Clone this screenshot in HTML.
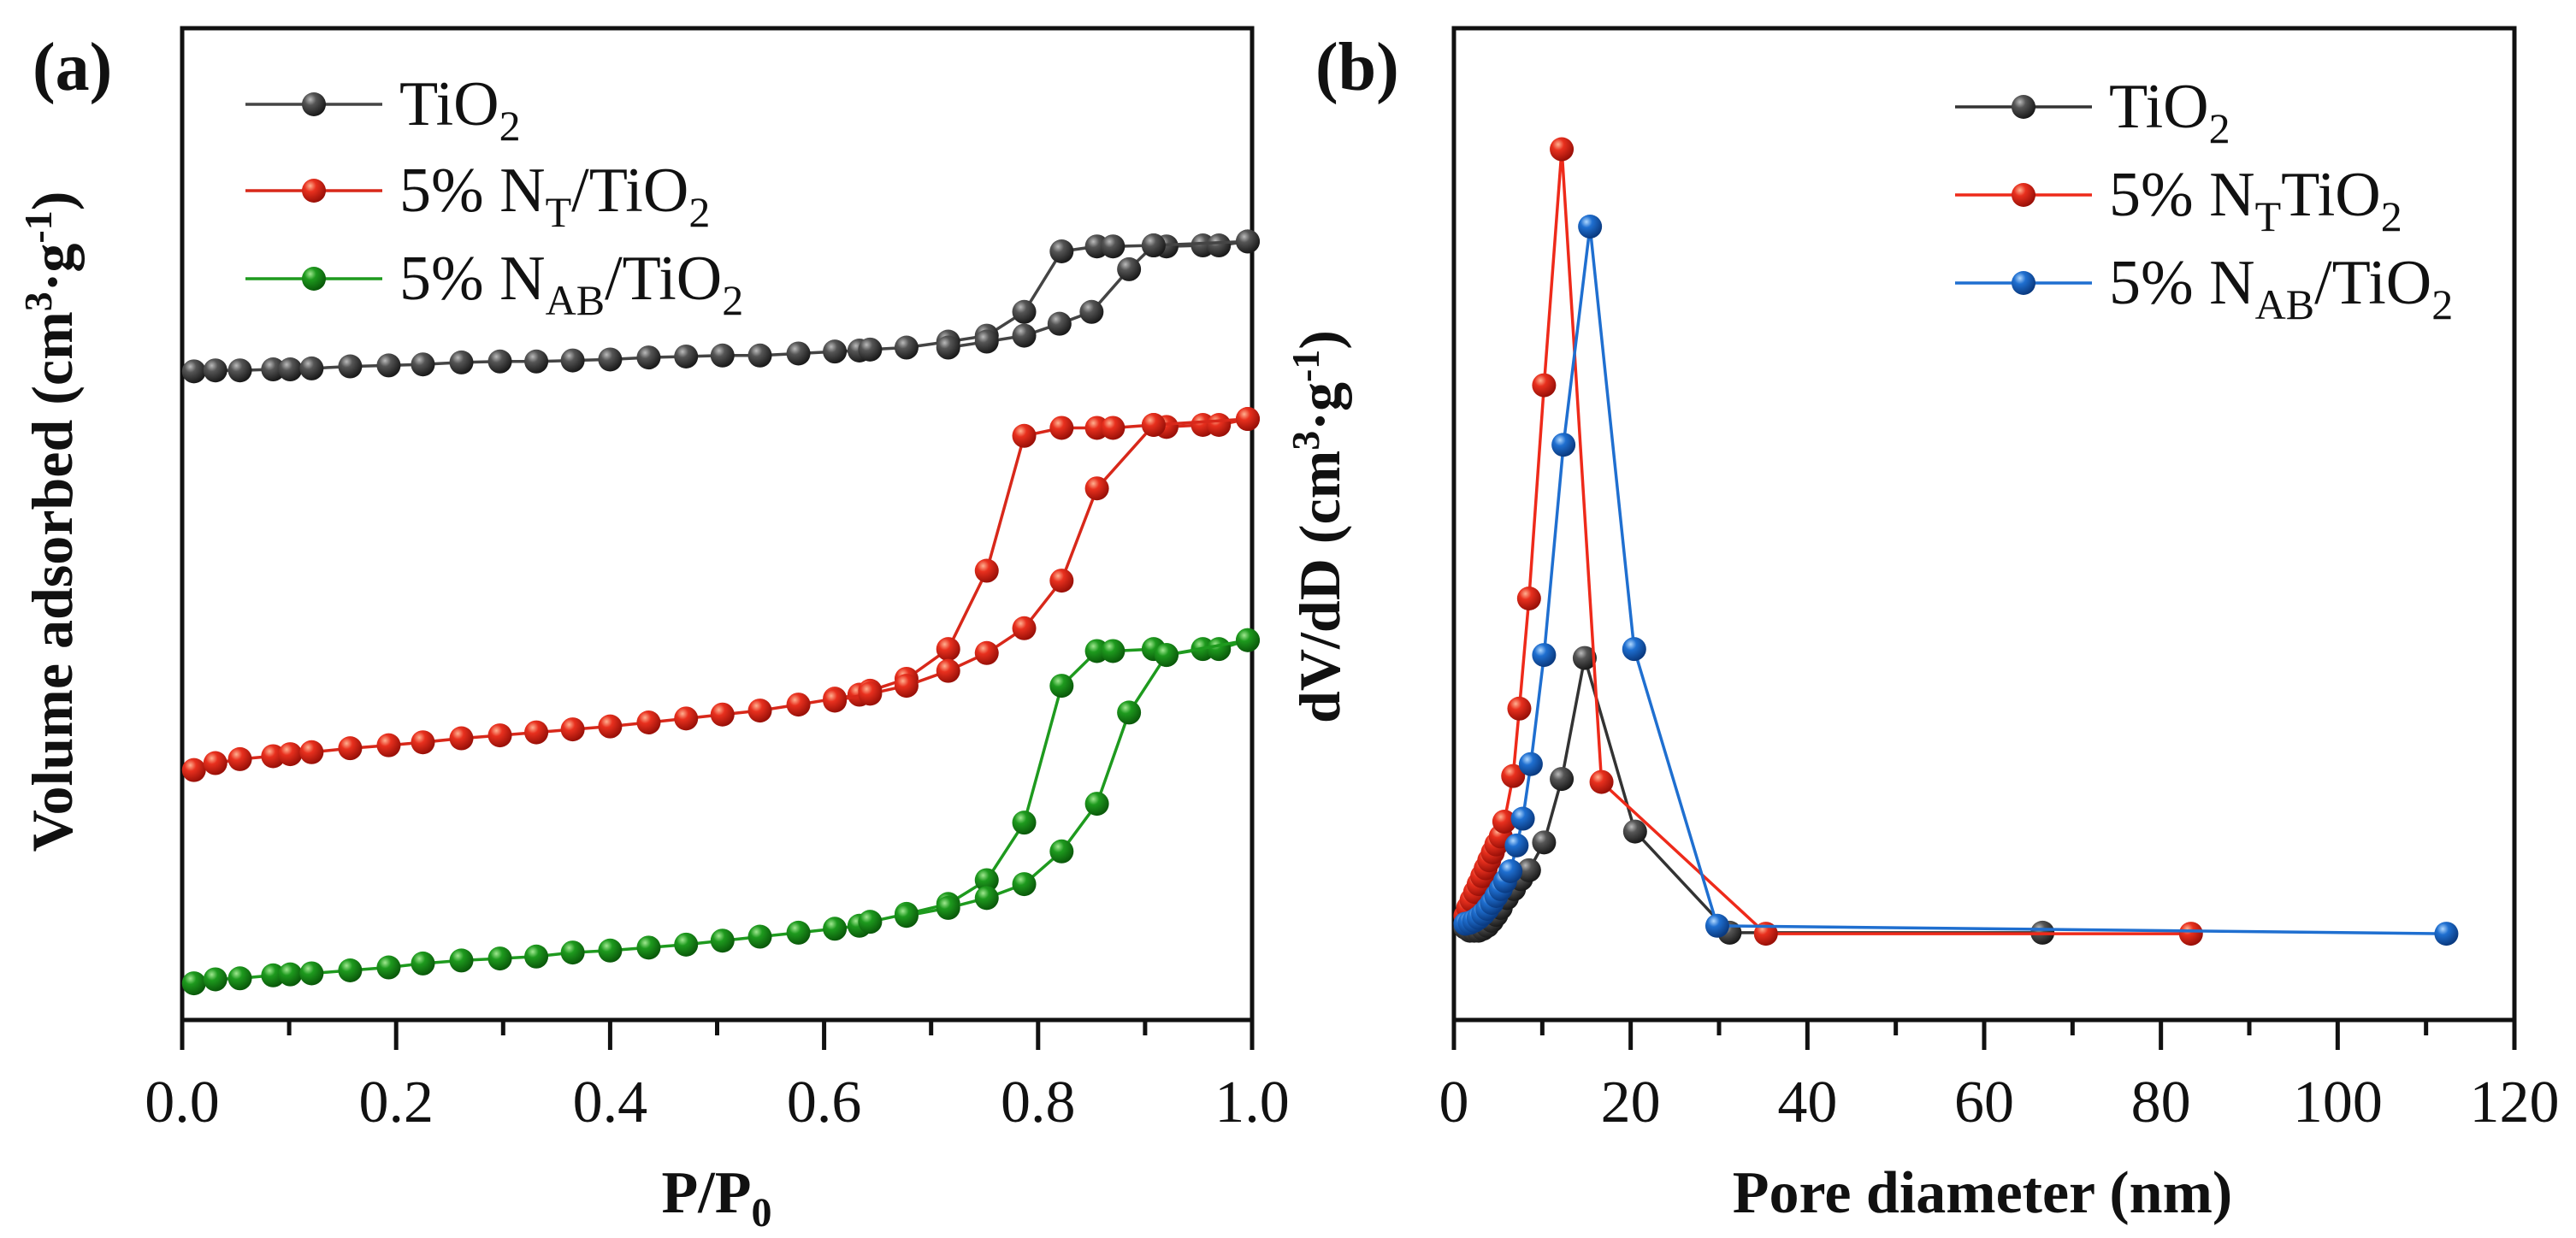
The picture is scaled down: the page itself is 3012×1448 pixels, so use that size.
<!DOCTYPE html>
<html><head><meta charset="utf-8"><style>
body{margin:0;background:#fff}
svg{display:block}
text{font-family:"Liberation Serif","DejaVu Serif",serif;fill:#111}
</style></head><body>
<svg id="chart" width="3012" height="1448" viewBox="0 0 3012 1448" xmlns="http://www.w3.org/2000/svg" font-family="Liberation Serif, DejaVu Serif, serif">
<defs>
<radialGradient id="gk" cx="35%" cy="30%" r="70%"><stop offset="0" stop-color="#bbb"/><stop offset="0.35" stop-color="#555"/><stop offset="1" stop-color="#1a1a1a"/></radialGradient>
<radialGradient id="gr" cx="35%" cy="30%" r="70%"><stop offset="0" stop-color="#ffb090"/><stop offset="0.35" stop-color="#e8301e"/><stop offset="1" stop-color="#9a1008"/></radialGradient>
<radialGradient id="gg" cx="35%" cy="30%" r="70%"><stop offset="0" stop-color="#a0e890"/><stop offset="0.35" stop-color="#1e9a1e"/><stop offset="1" stop-color="#0a5a0a"/></radialGradient>
<radialGradient id="gb" cx="35%" cy="30%" r="70%"><stop offset="0" stop-color="#b0d8ff"/><stop offset="0.35" stop-color="#1f6fd0"/><stop offset="1" stop-color="#0a3a80"/></radialGradient>
</defs>
</svg>
<script>
// ---- Panel (a) data: relative pressure and volume (arbitrary units 0-100) ----
const adsX = [0.011,0.031,0.054,0.085,0.101,0.121,0.157,0.193,0.225,0.261,0.297,0.331,0.365,0.40,0.436,0.471,0.505,0.54,0.576,0.61,0.633,0.643,0.677,0.716,0.752,0.787,0.822,0.855,0.87,0.908,0.92,0.954,0.969,0.996];
const tiAds = [65.4,65.5,65.5,65.6,65.6,65.7,65.9,66.0,66.1,66.3,66.4,66.4,66.5,66.6,66.8,66.9,67.0,67.0,67.2,67.4,67.5,67.6,67.8,68.4,69.0,71.4,77.5,78.0,78.0,78.1,78.0,78.1,78.1,78.5];
const tiDesX = [0.996,0.908,0.885,0.85,0.82,0.787,0.752,0.716];
const tiDes = [78.5,78.1,75.7,71.4,70.2,69.0,68.4,67.8];
const ntAds = [25.2,25.9,26.3,26.6,26.8,27.0,27.4,27.7,28.0,28.4,28.7,29.0,29.3,29.6,30.0,30.4,30.8,31.2,31.8,32.4,32.8,33.2,34.4,37.4,45.3,58.9,59.7,59.7,59.7,60.0,59.8,60.0,60.0,60.6];
const ntDesX = [0.996,0.908,0.855,0.822,0.787,0.752,0.716,0.677,0.643,0.61];
const ntDes = [60.6,60.0,53.6,44.3,39.5,37.0,35.2,33.7,32.9,32.2];
const nabAds = [3.7,4.1,4.2,4.5,4.6,4.7,5.0,5.3,5.7,6.0,6.2,6.4,6.8,7.0,7.3,7.6,8.0,8.4,8.8,9.2,9.5,9.9,10.7,11.7,14.1,19.9,33.7,37.2,37.2,37.4,36.8,37.4,37.4,38.3];
const nabDesX = [0.996,0.92,0.885,0.855,0.822,0.787,0.752,0.716,0.677];
const nabDes = [38.3,36.8,31.0,21.8,17.0,13.7,12.3,11.3,10.5];
const xTicksA = ["0.0","0.2","0.4","0.6","0.8","1.0"];

// ---- Panel (b) data: pore diameter (nm) and dV/dD (arbitrary units) ----
const kD = [1.3,1.8,2.3,2.8,3.3,3.8,4.3,4.8,5.3,6.0,6.8,7.6,8.5,10.2,12.2,14.8,20.5,31.2,66.6];
const kV = [9.3,9.0,9.0,9.0,9.2,9.5,10.0,10.6,11.3,12.3,13.2,14.2,15.1,17.9,24.3,36.5,19.0,8.8,8.8];
const rD = [1.3,1.6,2.0,2.4,2.8,3.2,3.6,4.0,4.4,4.8,5.3,5.7,6.7,7.4,8.5,10.2,12.2,16.7,35.3,83.4];
const rV = [10.5,11.3,12.1,12.9,13.7,14.5,15.3,16.1,16.9,17.7,18.5,20.0,24.6,31.4,42.5,64.0,87.8,24.0,8.7,8.7];
const bD = [1.3,1.8,2.3,2.8,3.3,3.8,4.3,4.8,5.3,5.8,6.4,7.1,7.8,8.7,10.2,12.4,15.4,20.4,29.8,112.3];
const bV = [9.7,9.8,10.0,10.3,10.7,11.2,11.8,12.5,13.2,14.0,15.0,17.6,20.3,25.8,36.8,58.0,80.0,37.4,9.5,8.7];
const xTicksB = ["0","20","40","60","80","100","120"];

const NS = "http://www.w3.org/2000/svg";
const svg = document.getElementById('chart');
function el(tag, attrs, parent){const e=document.createElementNS(NS,tag);for(const k in attrs)e.setAttribute(k,attrs[k]);(parent||svg).appendChild(e);return e;}

const TOP=33, BOT=1193;
const yS = v => BOT - v/100*(BOT-TOP);
const pa = {x0:213,x1:1464,min:0,max:1};
const pb = {x0:1700,x1:2940,min:0,max:120};
const xA = v => pa.x0 + (v-pa.min)/(pa.max-pa.min)*(pa.x1-pa.x0);
const xB = v => pb.x0 + (v-pb.min)/(pb.max-pb.min)*(pb.x1-pb.x0);

function series(xs, ys, xf, color, grad, name){
  const g = el('g',{});
  
  
  const pts = xs.map((x,i)=>xf(x).toFixed(1)+','+yS(ys[i]).toFixed(1)).join(' ');
  const l = el('polyline',{points:pts,fill:'none',stroke:color,'stroke-width':3.5,'stroke-linejoin':'round'},g);
  
  
  xs.forEach((x,i)=>{
    const c = el('circle',{cx:xf(x),cy:yS(ys[i]),r:14,fill:'url(#'+grad+')'},g);
    
    
  });
}

function frame(p, xf, ticks, step, minorStep, name){
  const g = el('g',{});
  
  
  el('rect',{x:p.x0,y:TOP,width:p.x1-p.x0,height:BOT-TOP,fill:'none',stroke:'#111','stroke-width':5},g);
  for(let v=p.min; v<=p.max+1e-9; v+=minorStep){
    const major = Math.abs(Math.round(v/step)*step - v) < 1e-6;
    const t = el('line',{x1:xf(v),x2:xf(v),y1:BOT,y2:BOT+(major?35:18),stroke:'#111','stroke-width':5},g);
    
    
  }
  ticks.forEach((lab,i)=>{
    const t = el('text',{x:xf(p.min+i*step),y:1312,'text-anchor':'middle','font-size':70},g);
    t.textContent = lab;
    
    
  });
}

function textHTML(attrs, html, name){
  const t = el('text', attrs);
  t.innerHTML = html;
  
  
  return t;
}

function legend(x0, rows){
  rows.forEach((r,i)=>{
    const y = r.y;
    const g = el('g',{});
    
    
    el('line',{x1:x0,x2:x0+160,y1:y,y2:y,stroke:r.c,'stroke-width':3.5},g);
    el('circle',{cx:x0+80,cy:y,r:14,fill:'url(#'+r.g+')'},g);
    const t = el('text',{x:x0+180,y:y+24,'font-size':74},g);
    t.innerHTML = r.html;
  });
}

// Panel (a)
frame(pa, xA, xTicksA, 0.2, 0.1, 'panel-a-axes');
series(adsX, tiAds, xA, '#444', 'gk', 'tio2-adsorption');
series(tiDesX, tiDes, xA, '#444', 'gk', 'tio2-desorption');
series(adsX, ntAds, xA, '#d8281a', 'gr', 'nt-adsorption');
series(ntDesX, ntDes, xA, '#d8281a', 'gr', 'nt-desorption');
series(adsX, nabAds, xA, '#1e9a1e', 'gg', 'nab-adsorption');
series(nabDesX, nabDes, xA, '#1e9a1e', 'gg', 'nab-desorption');
legend(287, [
 {y:122,c:'#444',g:'gk',html:'TiO<tspan dy="18" font-size="50">2</tspan>'},
 {y:223,c:'#d8281a',g:'gr',html:'5% N<tspan dy="18" font-size="50">T</tspan><tspan dy="-18">/TiO</tspan><tspan dy="18" font-size="50">2</tspan>'},
 {y:326,c:'#1e9a1e',g:'gg',html:'5% N<tspan dy="18" font-size="50">AB</tspan><tspan dy="-18">/TiO</tspan><tspan dy="18" font-size="50">2</tspan>'}
]);
textHTML({x:38,y:105,'font-size':80,'font-weight':'bold'}, '(a)', 'panel-a-label');
textHTML({x:838,y:1418,'font-size':70,'font-weight':'bold','text-anchor':'middle'}, 'P/P<tspan dy="16" font-size="48">0</tspan>', 'x-axis-title-a');
textHTML({x:0,y:0,'font-size':68,'font-weight':'bold','text-anchor':'middle',transform:'translate(84,610) rotate(-90)'}, 'Volume adsorbed (cm<tspan dy="-24" font-size="46">3</tspan><tspan dy="24">·g</tspan><tspan dy="-24" font-size="46">-1</tspan><tspan dy="24">)</tspan>', 'y-axis-title-a');

// Panel (b)
frame(pb, xB, xTicksB, 20, 10, 'panel-b-axes');
series(kD, kV, xB, '#333', 'gk', 'tio2-pore');
series(rD, rV, xB, '#ee2a1a', 'gr', 'nt-pore');
series(bD, bV, xB, '#1f6fd0', 'gb', 'nab-pore');
legend(2286, [
 {y:125,c:'#333',g:'gk',html:'TiO<tspan dy="18" font-size="50">2</tspan>'},
 {y:228,c:'#ee2a1a',g:'gr',html:'5% N<tspan dy="18" font-size="50">T</tspan><tspan dy="-18">TiO</tspan><tspan dy="18" font-size="50">2</tspan>'},
 {y:331,c:'#1f6fd0',g:'gb',html:'5% N<tspan dy="18" font-size="50">AB</tspan><tspan dy="-18">/TiO</tspan><tspan dy="18" font-size="50">2</tspan>'}
]);
textHTML({x:1538,y:105,'font-size':80,'font-weight':'bold'}, '(b)', 'panel-b-label');
textHTML({x:2318,y:1418,'font-size':70,'font-weight':'bold','text-anchor':'middle'}, 'Pore diameter (nm)', 'x-axis-title-b');
textHTML({x:0,y:0,'font-size':68,'font-weight':'bold','text-anchor':'middle',transform:'translate(1566,616) rotate(-90)'}, 'dV/dD (cm<tspan dy="-24" font-size="46">3</tspan><tspan dy="24">·g</tspan><tspan dy="-24" font-size="46">-1</tspan><tspan dy="24">)</tspan>', 'y-axis-title-b');
</script>
</body></html>
